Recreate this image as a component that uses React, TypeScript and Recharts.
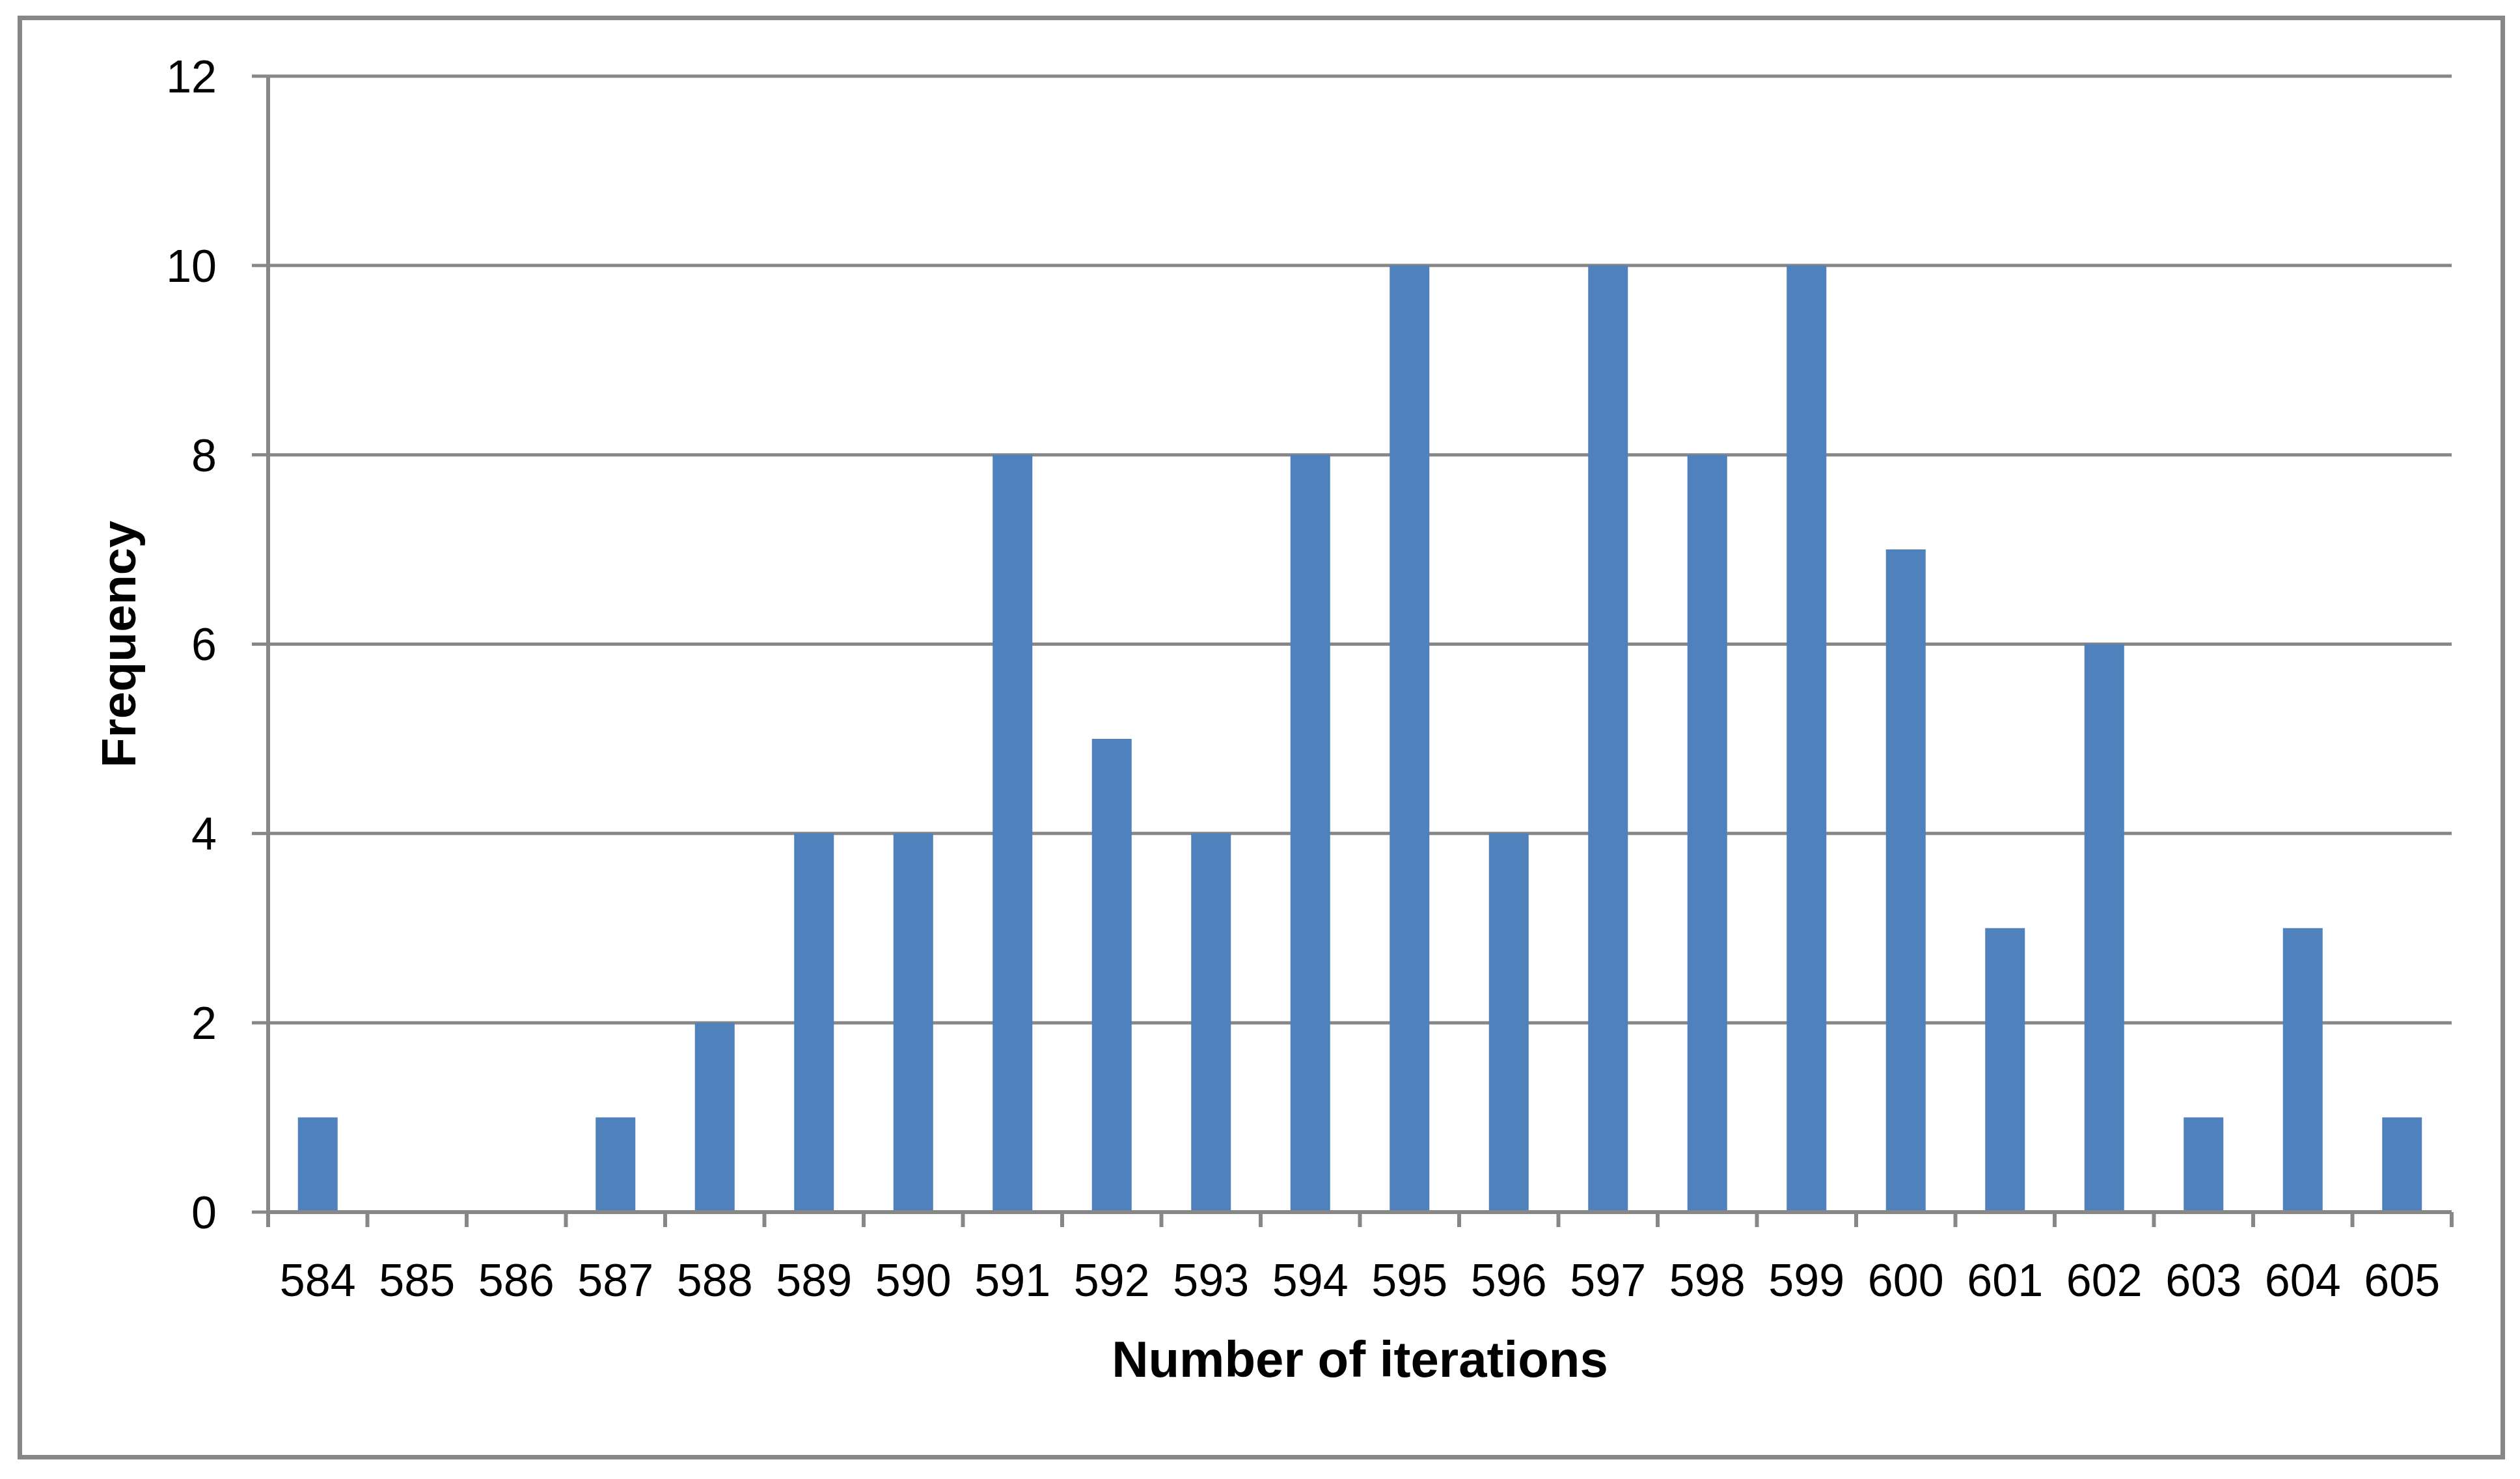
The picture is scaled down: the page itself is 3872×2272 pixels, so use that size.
import React from 'react';
import { BarChart, Bar, XAxis, YAxis, CartesianGrid } from 'recharts';

const categories = ['584', '585', '586', '587', '588', '589', '590', '591', '592', '593', '594', '595', '596', '597', '598', '599', '600', '601', '602', '603', '604', '605'];
const frequencies = [1, 0, 0, 1, 2, 4, 4, 8, 5, 4, 8, 10, 4, 10, 8, 10, 7, 3, 6, 1, 3, 1];
const yTicks = [0, 2, 4, 6, 8, 10, 12];

const data = categories.map((c, i) => ({ iterations: c, frequency: frequencies[i] }));

const GRAY = '#878787';
const W = 3872;
const H = 2272;
const X_TICK_SIZE = 23;
const X_TICK_MARGIN = 56;
const FONT = '"Liberation Sans", Arial, sans-serif';

function XTick(props: any) {
  const { x, y, payload, index, visibleTicksCount, width } = props;
  const half = payload && payload.offset != null && payload.offset > 0
    ? payload.offset
    : width / visibleTicksCount / 2;
  const y1 = y - X_TICK_MARGIN - X_TICK_SIZE;
  const y2 = y - X_TICK_MARGIN;
  return (
    <g>
      <line x1={x - half} x2={x - half} y1={y1} y2={y2} stroke={GRAY} strokeWidth={6} />
      {index === visibleTicksCount - 1 && (
        <line x1={x + half} x2={x + half} y1={y1} y2={y2} stroke={GRAY} strokeWidth={6} />
      )}
      <text x={x} y={y} dy="0.71em" textAnchor="middle" fontSize={70} fill="#000" fontFamily={FONT}>
        {payload.value}
      </text>
    </g>
  );
}

function YTitle(props: any) {
  const vb = props.viewBox || { x: 0, y: 0, width: 0, height: 0 };
  const cx = vb.x + 208;
  const cy = vb.y + vb.height / 2;
  return (
    <text
      x={cx}
      y={cy}
      transform={`rotate(-90 ${cx} ${cy})`}
      textAnchor="middle"
      fontSize={75}
      fontWeight="bold"
      fill="#000"
      fontFamily={FONT}
    >
      Frequency
    </text>
  );
}

export default function App() {
  return (
    <div style={{ position: 'absolute', left: 0, top: 0, width: W, height: H, background: '#fff', fontFamily: FONT }}>
      <div
        style={{
          position: 'absolute',
          left: 27,
          top: 24,
          width: 3822,
          height: 2218,
          border: `7px solid ${GRAY}`,
          boxSizing: 'border-box',
        }}
      />
      <div style={{ position: 'absolute', left: 0, top: 0 }}>
        <BarChart
          width={W}
          height={H}
          data={data}
          margin={{ top: 117, right: 105, bottom: 0, left: 0 }}
          barCategoryGap="30%"
        >
          <CartesianGrid vertical={false} stroke={GRAY} strokeWidth={5} />
          <XAxis
            dataKey="iterations"
            type="category"
            interval={0}
            height={410}
            tickSize={X_TICK_SIZE}
            tickMargin={X_TICK_MARGIN}
            tickLine={false}
            axisLine={{ stroke: GRAY, strokeWidth: 6 }}
            tick={<XTick />}
            label={{
              value: 'Number of iterations',
              position: 'insideTop',
              offset: 198,
              fontSize: 78,
              fontWeight: 'bold',
              fill: '#000',
              fontFamily: FONT,
            }}
          />
          <YAxis
            type="number"
            domain={[0, 12]}
            ticks={yTicks}
            interval={0}
            width={412}
            tickSize={25}
            tickMargin={54}
            axisLine={{ stroke: GRAY, strokeWidth: 6 }}
            tickLine={{ stroke: GRAY, strokeWidth: 5 }}
            tick={{ fontSize: 70, fill: '#000', fontFamily: FONT }}
            label={{ content: <YTitle /> }}
          />
          <Bar dataKey="frequency" fill="#4F81BD" isAnimationActive={false} />
        </BarChart>
      </div>
    </div>
  );
}
